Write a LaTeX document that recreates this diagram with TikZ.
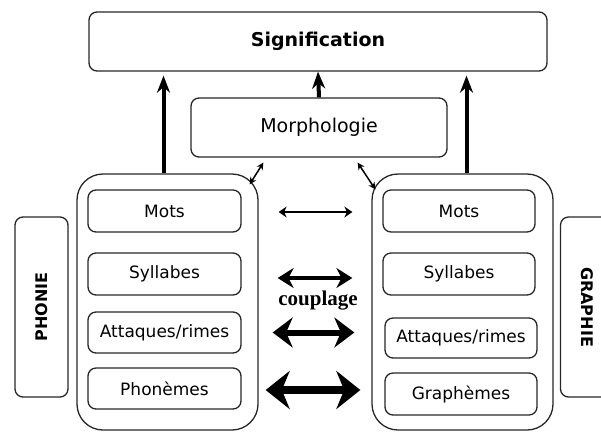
\documentclass[tikz,border=0pt]{standalone}
\usepackage{fontspec}
\setmainfont{DejaVu Sans}
\newfontfamily\couplagefont{Liberation Serif}
\usetikzlibrary{arrows.meta}
\tikzset{
  cadre/.style={draw=black!85, rounded corners=8pt, line width=1.3pt, inner sep=0pt},
  niveau/.style={cadre, minimum width=153pt, minimum height=42pt,
    font=\fontsize{17}{20}\selectfont},
  groupe/.style={draw=black!85, rounded corners=26pt, line width=1.3pt,
    minimum width=181pt, minimum height=256pt},
  cote/.style={cadre, minimum width=53pt, minimum height=180pt,
    font=\bfseries\fontsize{16}{18}\selectfont},
  monte/.style={line width=4pt, -{Stealth[length=17pt,width=13pt]}},
  couple/.style n args={3}{line width=#1,
    {Stealth[length=#2,width=#3]}-{Stealth[length=#2,width=#3]}}
}
\begin{document}
\begin{tikzpicture}[x=1pt,y=-1pt]
  \clip (0,0) rectangle (601,432);
  % haut
  \node [cadre, minimum width=458pt, minimum height=59pt,
    font=\bfseries\fontsize{19}{22}\selectfont] (sig) at (318,41.5) {Signification};
  \node [cadre, minimum width=256pt, minimum height=59pt,
    font=\fontsize{19}{22}\selectfont] (morpho) at (319,127.5) {Morphologie};
  % les deux colonnes
  \node [groupe] (gauche) at (167.5,302) {};
  \node [groupe] (droite) at (462.5,302) {};
  \node [niveau] (lmots) at (164.5,211) {Mots};
  \node [niveau] (lsyl) at (164.5,274) {Syllabes};
  \node [niveau, minimum height=41pt] (latt) at (164.5,332.5) {Attaques/rimes};
  \node [niveau, minimum height=41pt] (lpho) at (164.5,388.5) {Phonèmes};
  \node [niveau, minimum width=152pt] (rmots) at (459,211) {Mots};
  \node [niveau, minimum width=152pt] (rsyl) at (459,274) {Syllabes};
  \node [niveau, minimum width=152pt, minimum height=40pt] (ratt) at (461,338) {Attaques/rimes};
  \node [niveau, minimum width=152pt] (rgra) at (461,394) {Graphèmes};
  \node [cote] (phonie) at (41.5,307) {\rotatebox{90}{PHONIE}};
  \node [cote] (graphie) at (587,307) {\rotatebox{-90}{GRAPHIE}};
  \node [font=\couplagefont\bfseries\fontsize{21}{24}\selectfont] (couplage) at (318,301) {couplage};
  % fleches
  \draw [monte, shorten >=4pt] ([xshift=-4pt]gauche.north) -- ([xshift=-4pt]gauche.north |- sig.south);
  \draw [monte] (morpho.north) -- (sig.south);
  \draw [monte, shorten >=4pt] ([xshift=4pt]droite.north) -- ([xshift=4pt]droite.north |- sig.south);
  \draw [couple={1.5pt}{7pt}{7pt}] ([shift={(-9,11)}]gauche.north east) -- ([shift={(73,5)}]morpho.south west);
  \draw [couple={1.5pt}{7pt}{7pt}] ([shift={(4,16)}]droite.north west) -- ([shift={(-90,5)}]morpho.south east);
  \draw [couple={2.5pt}{8pt}{11pt}, shorten <=37pt, shorten >=30pt] ([yshift=-1pt]lmots.east) -- ([yshift=-1pt]lmots.east -| rmots.west);
  \draw [couple={3.5pt}{16pt}{20pt}, shorten <=36pt, shorten >=30pt] ([yshift=-4pt]lsyl.east) -- ([yshift=-4pt]lsyl.east -| rsyl.west);
  \draw [couple={6pt}{20pt}{30pt}, shorten <=31pt, shorten >=30pt] (latt.east) -- (latt.east -| ratt.west);
  \draw [couple={8pt}{24pt}{38pt}, shorten <=24pt, shorten >=24pt] ([yshift=-1.5pt]lpho.east) -- ([yshift=-1.5pt]lpho.east -| rgra.west);
\end{tikzpicture}
\end{document}
